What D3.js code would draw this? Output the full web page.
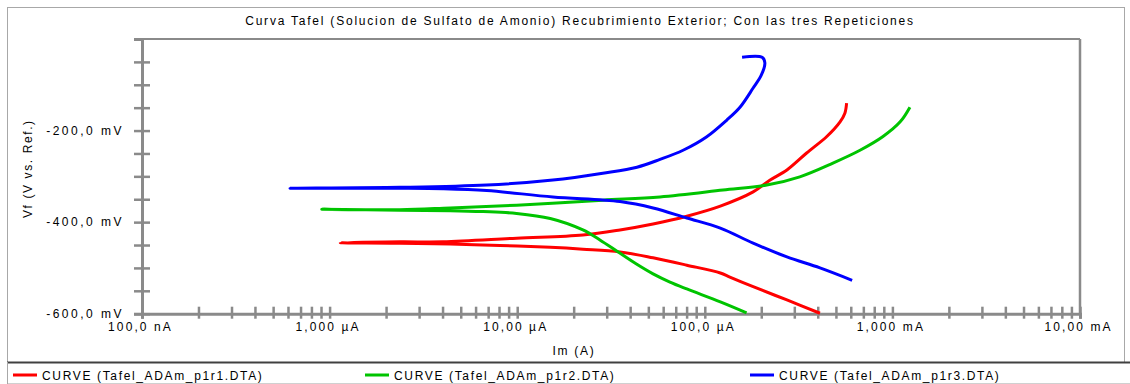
<!DOCTYPE html>
<html>
<head>
<meta charset="utf-8">
<script src="https://cdn.jsdelivr.net/npm/d3@7"></script>
<style>
  html, body { margin: 0; padding: 0; background: #ffffff; }
  svg { display: block; }
  text { font-family: "Liberation Sans", Arial, sans-serif; fill: #000; }
</style>
</head>
<body>
<svg id="chart" width="1130" height="384"></svg>
<script>
// Potential (mV) tick marks and labels
const potentialTicks = [-600, -550, -500, -450, -400, -350, -300, -250, -200, -150, -100, -50];
const potentialLabels = { "-600": "-600,0 mV", "-400": "-400,0 mV", "-200": "-200,0 mV" };

// Current decades (A) and their labels
const currentDecades = [1e-7, 1e-6, 1e-5, 1e-4, 1e-3, 1e-2];
const currentLabels = ["100,0 nA", "1,000 µA", "10,00 µA", "100,0 µA", "1,000 mA", "10,00 mA"];

// Series names
const seriesNames = ["CURVE (Tafel_ADAm_p1r1.DTA)", "CURVE (Tafel_ADAm_p1r2.DTA)", "CURVE (Tafel_ADAm_p1r3.DTA)"];
const seriesColors = ["#ff0000", "#00c400", "#0000ff"];

// Repetition 1: current (A) and potential (mV), in scan order
const r1Current = [4.11e-4, 2.74e-4, 1.81e-4, 1.36e-4, 1.21e-4, 8.02e-5, 5.30e-5, 3.53e-5, 2.24e-5,
  1.50e-5, 8.09e-6, 4.39e-6, 2.37e-6, 1.14e-6, 2.37e-6, 4.02e-6, 9.93e-6, 2.24e-5, 3.53e-5,
  5.30e-5, 8.02e-5, 1.21e-4, 1.81e-4, 2.23e-4, 2.74e-4, 3.49e-4, 4.47e-4, 5.26e-4, 5.58e-4, 5.70e-4];
const r1Potential = [-599, -570, -541, -520, -511, -494, -478, -465, -459,
  -455, -451, -448, -446, -445, -443, -443, -435, -428, -417,
  -404, -387, -365, -334, -308, -286, -249, -213, -181, -162, -140];

// Repetition 2
const r2Current = [1.67e-4, 1.21e-4, 8.02e-5, 6.52e-5, 5.30e-5, 4.30e-5, 3.39e-5, 2.76e-5, 2.24e-5, 1.50e-5,
  9.93e-6, 6.58e-6, 4.39e-6, 2.37e-6, 9.08e-7, 2.37e-6, 4.39e-6, 9.93e-6, 2.86e-5, 5.77e-5,
  1.25e-4, 2.14e-4, 3.21e-4, 4.82e-4, 6.72e-4, 8.91e-4, 1.10e-3, 1.24e-3];
const r2Potential = [-598, -574, -546, -531, -513, -491, -463, -439, -417, -392,
  -381, -377, -375, -374, -372, -373, -369, -363, -352, -345,
  -330, -319, -301, -271, -243, -213, -181, -149];

// Repetition 3
const r3Current = [6.10e-4, 4.11e-4, 2.74e-4, 1.81e-4, 1.21e-4, 8.02e-5, 5.30e-5, 3.53e-5, 1.55e-5, 6.88e-6,
  4.02e-6, 2.37e-6, 6.15e-7, 2.37e-6, 6.88e-6, 1.55e-5, 2.86e-5, 4.35e-5, 5.77e-5, 7.66e-5,
  1.02e-4, 1.31e-4, 1.54e-4, 1.81e-4, 2.00e-4, 2.09e-4, 2.02e-4, 1.58e-4];
const r3Potential = [-527, -500, -476, -446, -413, -391, -369, -355, -345, -331,
  -327, -326, -326, -324, -319, -308, -293, -280, -263, -243,
  -214, -177, -149, -107, -79, -52, -40, -40];

const series = [
  { name: seriesNames[0], color: seriesColors[0], I: r1Current, E: r1Potential },
  { name: seriesNames[1], color: seriesColors[1], I: r2Current, E: r2Potential },
  { name: seriesNames[2], color: seriesColors[2], I: r3Current, E: r3Potential }
];

const svg = d3.select("#chart");
const axisColor = "#8a8a8a";

// Plot region
const plotLeft = 142, plotRight = 1080, plotTop = 39, plotBottom = 313.7;

const x = d3.scaleLog().domain([1e-7, 1e-2]).range([plotLeft, plotRight]);
const y = d3.scaleLinear().domain([-600, 0]).range([plotBottom, plotTop]);

// Outer frame
svg.append("rect")
  .attr("x", 7.5).attr("y", 7.5).attr("width", 1117).attr("height", 355)
  .attr("fill", "none").attr("stroke", "#a8a8a8").attr("stroke-width", 1);

// Legend separator and legend box
svg.append("line").attr("x1", 7).attr("x2", 1130).attr("y1", 362.5).attr("y2", 362.5)
  .attr("stroke", "#404040").attr("stroke-width", 2);
svg.append("line").attr("x1", 7).attr("x2", 1130).attr("y1", 383.5).attr("y2", 383.5)
  .attr("stroke", "#d0d0d0").attr("stroke-width", 1);
svg.append("line").attr("x1", 7.5).attr("x2", 7.5).attr("y1", 362).attr("y2", 384)
  .attr("stroke", "#a8a8a8").attr("stroke-width", 1);

// Title
svg.append("text")
  .attr("x", 580).attr("y", 25)
  .attr("text-anchor", "middle")
  .style("font-size", "12px").style("letter-spacing", "1.78px")
  .text("Curva Tafel (Solucion de Sulfato de Amonio) Recubrimiento Exterior; Con las tres Repeticiones");

// Plot frame (top and right)
svg.append("line").attr("x1", plotLeft).attr("x2", plotRight).attr("y1", plotTop).attr("y2", plotTop)
  .attr("stroke", axisColor).attr("stroke-width", 2);
svg.append("line").attr("x1", plotRight).attr("x2", plotRight).attr("y1", plotTop).attr("y2", plotBottom)
  .attr("stroke", axisColor).attr("stroke-width", 2.5);

// Y axis
const yAxis = d3.axisLeft(y)
  .tickValues(potentialTicks)
  .tickSizeOuter(0)
  .tickSize(8)
  .tickPadding(10)
  .tickFormat(d => potentialLabels[String(d)] || "");
const gy = svg.append("g").attr("transform", `translate(${plotLeft},0)`).call(yAxis);
gy.select(".domain").attr("stroke", axisColor).attr("stroke-width", 3);
gy.selectAll(".tick line").attr("x1", -8).attr("x2", 8).attr("stroke", axisColor).attr("stroke-width", 2.5);
gy.selectAll(".tick text")
  .style("font-size", "12px").style("letter-spacing", "2.5px");

// X axis ticks: 1..9 times each decade
const currentTicks = [];
currentDecades.forEach((d, i) => {
  if (i < currentDecades.length - 1) {
    for (let k = 1; k <= 9; k++) currentTicks.push(d * k);
  } else currentTicks.push(d);
});
const labelFor = new Map(currentDecades.map((d, i) => [d.toExponential(3), currentLabels[i]]));

const xAxis = d3.axisBottom(x)
  .tickValues(currentTicks)
  .tickSizeOuter(0)
  .tickSize(5)
  .tickFormat(d => labelFor.get(d.toExponential(3)) || "");
const gx = svg.append("g").attr("transform", `translate(0,${plotBottom})`).call(xAxis);
gx.select(".domain").attr("stroke", axisColor).attr("stroke-width", 3);
gx.selectAll(".tick line").attr("y1", -7).attr("y2", 5).attr("stroke", axisColor).attr("stroke-width", 2.5);
gx.selectAll(".tick text")
  .attr("y", 17).attr("dy", 0).attr("dx", -2)
  .style("font-size", "12px").style("letter-spacing", "2.1px");
svg.selectAll(".tick text").attr("fill", "#000").attr("font-family", null);

// Axis titles
svg.append("text")
  .attr("x", 574).attr("y", 355)
  .attr("text-anchor", "middle")
  .style("font-size", "12px").style("letter-spacing", "1.7px")
  .text("Im (A)");
svg.append("text")
  .attr("transform", "translate(32,218) rotate(-90)")
  .attr("text-anchor", "start")
  .style("font-size", "12px").style("letter-spacing", "1.6px")
  .text("Vf (V vs. Ref.)");

// Curves
svg.append("clipPath").attr("id", "plotClip")
  .append("rect").attr("x", plotLeft).attr("y", plotTop - 2)
  .attr("width", plotRight - plotLeft).attr("height", plotBottom - plotTop + 4);

const line = d3.line()
  .x(d => x(d[0]))
  .y(d => y(d[1]))
  .curve(d3.curveCatmullRom.alpha(0.5));

const gc = svg.append("g").attr("clip-path", "url(#plotClip)");
series.forEach(s => {
  const pts = s.I.map((v, i) => [v, s.E[i]]);
  gc.append("path")
    .datum(pts)
    .attr("d", line)
    .attr("fill", "none")
    .attr("stroke", s.color)
    .attr("stroke-width", 3)
    .attr("stroke-linejoin", "round");
});

// Legend
const legendX = [13, 365, 750];
series.forEach((s, i) => {
  const g = svg.append("g").attr("transform", `translate(${legendX[i]},375)`);
  g.append("line").attr("x1", 0).attr("x2", 24).attr("y1", 0).attr("y2", 0)
    .attr("stroke", s.color).attr("stroke-width", 3);
  g.append("text").attr("x", 29).attr("y", 5)
    .style("font-size", "12px").style("letter-spacing", "1.65px")
    .text(s.name);
});
</script>
</body>
</html>
